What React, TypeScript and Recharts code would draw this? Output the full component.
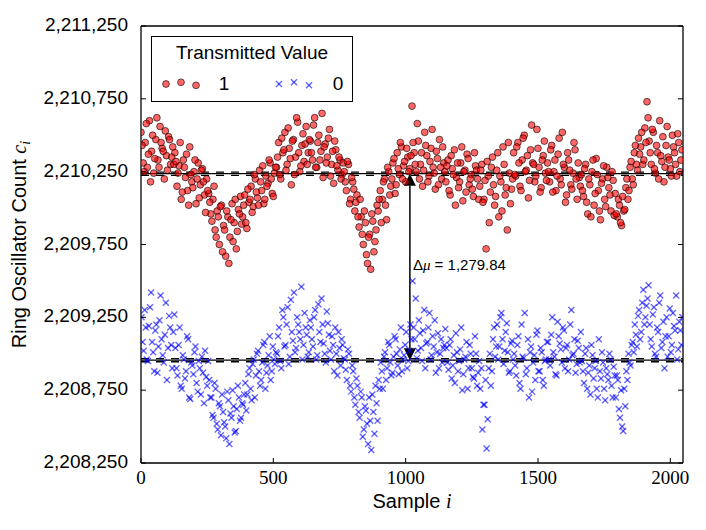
import {
  ScatterChart, Scatter, XAxis, YAxis, ReferenceLine, Legend, Label,
} from 'recharts';

const SANS = '"Liberation Sans", Arial, sans-serif';
const SERIF = '"Liberation Serif", "DejaVu Serif", serif';

// counts are stored as offsets from a base count, one row per 128 samples
const RED_BASE = 2210000;
const BLUE_BASE = 2208000;

// transmitted 1, even passes (samples 0, 8, 16, ...)
const redOffsets = [
  520, 310, 450, 280, 600, 390, 240, 470, 330, 560, 410, 200, 360, 490, 300, 420,
  380, 150, 290, 60, 330, 210, 120, 420, 180, 250, 30, 310, 160, 270, 90, 200,
  100, -40, 60, -150, -20, -250, 20, -120, -330, -60, -200, 30, -100, -280, -10, 80,
  -60, 90, -140, 40, 150, 10, 200, 70, 260, 120, 30, 220, 170, 310, 100, 240,
  280, 450, 200, 380, 520, 300, 410, 160, 470, 350, 590, 250, 430, 320, 560, 380,
  460, 330, 620, 280, 500, 390, 210, 440, 350, 540, 300, 170, 400, 260, 330, 230,
  250, 120, 300, 60, 180, -20, 90, -130, -60, -250, -100, -380, -180, -40, -300, -150,
  -20, 120, 60, 200, -80, 250, 150, 310, 100, 380, 230, 420, 290, 180, 350, 270,
  700, 380, 250, 460, 300, 150, 520, 360, 220, 410, 280, 130, 340, 470, 200, 310,
  180, 330, 90, 270, 400, 210, 140, 310, 50, 260, 370, 160, 230, 80, 290, 200,
  150, 300, 60, -280, 220, 110, 350, 20, 260, -60, 180, 420, 90, -150, 240, 130,
  380, 220, 450, 150, 330, 500, 260, 70, 400, 310, 180, 540, 280, 140, 360, 240,
  310, 180, 430, 250, 120, 370, 200, 520, 280, 90, 330, 160, 240, 400, 60, 210,
  230, 80, 300, -40, 160, 250, 20, 340, 120, -80, 200, 60, 280, 140, -20, 190,
  100, -60, 20, -120, -20, 140, 60, 280, 200, 380, 300, 480, 420, 300, 550, 730,
  460, 300, 520, 240, 380, 600, 320, 180, 430, 350, 270, 500, 380, 220, 450, 330,
];

// transmitted 1, odd passes (samples 4, 12, 20, ...)
const redOffsetsB = [
  430, 250, 580, 370, 180, 500, 340, 620, 280, 450, 390, 530, 260, 470, 350, 300,
  320, 240, 450, 110, 280, 370, 20, 230, 140, 330, 200, 70, 260, 180, -30, 120,
  40, -90, 150, -200, -60, 10, -300, -150, -20, -380, -80, -230, 60, -160, -40, -110,
  20, -100, 130, 60, -30, 230, 110, 20, 180, 290, 60, 150, 330, 200, 80, 280,
  350, 230, 480, 400, 260, 550, 340, 460, 230, 620, 380, 290, 510, 440, 300, 470,
  380, 570, 280, 450, 330, 650, 420, 310, 480, 220, 390, 460, 290, 350, 200, 310,
  180, 320, 30, 210, 130, 40, -60, 60, -180, -20, -320, -200, -420, -90, -230, 20,
  60, -100, 180, 20, 280, 90, 200, 340, 160, 270, 450, 200, 320, 410, 250, 360,
  450, 300, 580, 200, 380, 260, 430, 180, 320, 540, 240, 390, 160, 280, 420, 250,
  290, 120, 360, 230, 20, 310, 180, 420, 250, 110, 340, 200, 130, 380, 260, 60,
  260, 40, 190, 320, -100, 280, 160, 80, 380, 220, -20, 300, 140, 450, 30, 200,
  230, 420, 310, 120, 480, 250, 360, 190, 570, 300, 220, 410, 110, 330, 460, 190,
  250, 400, 110, 330, 220, 480, 160, 300, 40, 380, 260, 130, 450, 200, 310, 150,
  120, 270, 40, 200, -60, 330, 100, 230, -20, 170, 290, 10, 210, 90, 250, -50,
  -40, 60, -100, 80, -10, 200, 120, 320, 160, 430, 260, 370, 520, 330, 450, 620,
  380, 540, 270, 430, 200, 360, 490, 280, 560, 330, 220, 420, 300, 510, 250, 400,
];

// transmitted 0, even passes (samples 2, 10, 18, ...)
const blueOffsets = [
  1250, 1020, 1180, 950, 1320, 1080, 880, 1200, 1050, 1400, 990, 1130, 820, 1260, 1060, 1150,
  1040, 850, 1180, 760, 960, 880, 1100, 690, 920, 1010, 800, 950, 720, 870, 1020, 780,
  820, 700, 560, 760, 480, 640, 720, 530, 420, 680, 590, 750, 460, 620, 700, 560,
  650, 800, 720, 900, 680, 960, 850, 1020, 780, 940, 1080, 870, 990, 820, 1050, 930,
  1000, 1180, 900, 1250, 1060, 1320, 980, 1150, 1420, 1040, 1200, 1100, 960, 1280, 1130, 1010,
  1180, 1050, 1300, 990, 1150, 1380, 1070, 940, 1210, 1020, 1120, 880, 1000, 1150, 920, 1060,
  960, 820, 1000, 740, 880, 650, 780, 560, 700, 480, 610, 380, 540, 720, 450, 660,
  820, 940, 760, 1010, 900, 1060, 850, 980, 1100, 920, 1030, 880, 990, 1150, 950, 1200,
  1500, 1100, 970, 1230, 1040, 1160, 900, 1080, 1280, 990, 1050, 870, 1140, 1000, 940, 1060,
  1040, 890, 1100, 920, 800, 1010, 950, 1180, 860, 980, 760, 1060, 900, 830, 1000, 870,
  760, 480, 650, 350, 900, 780, 1100, 980, 1200, 1050, 1280, 930, 1150, 1010, 880, 1090,
  1000, 850, 1120, 760, 980, 1280, 900, 700, 1050, 940, 820, 1160, 880, 1010, 780, 960,
  1080, 920, 1250, 980, 850, 1120, 1030, 1180, 900, 1060, 960, 1300, 1000, 870, 1090, 940,
  950, 800, 1040, 870, 720, 990, 900, 760, 1100, 830, 940, 680, 860, 1000, 780, 910,
  700, 820, 560, 500, 760, 880, 1000, 920, 1080, 1200, 1050, 1300, 1150, 1440, 1250, 1380,
  1200, 1050, 1320, 980, 1150, 1400, 1080, 900, 1250, 1120, 1010, 1280, 1160, 960, 1220, 1060,
];

// transmitted 0, odd passes (samples 6, 14, 22, ...)
const blueOffsetsB = [
  1080, 1300, 960, 1190, 1420, 1010, 1160, 870, 1230, 1100, 940, 1350, 1040, 1180, 900, 1270,
  900, 1060, 780, 990, 830, 1120, 700, 940, 860, 1050, 740, 900, 980, 660, 840, 950,
  700, 580, 800, 520, 660, 440, 600, 500, 740, 380, 560, 640, 470, 780, 540, 660,
  720, 610, 860, 760, 930, 700, 1000, 880, 820, 1060, 760, 920, 1120, 880, 960, 1010,
  1120, 950, 1300, 1050, 1200, 930, 1370, 1090, 1010, 1250, 1150, 1460, 1060, 1180, 980, 1230,
  1100, 1250, 960, 1340, 1080, 1200, 1000, 1290, 1130, 960, 1060, 1180, 850, 1040, 1100, 970,
  890, 1030, 780, 920, 700, 830, 600, 740, 430, 640, 520, 700, 340, 600, 780, 540,
  760, 880, 980, 820, 1080, 940, 870, 1120, 1000, 860, 1180, 960, 1060, 900, 1020, 1100,
  1180, 1380, 1020, 1140, 950, 1300, 1070, 1180, 960, 1120, 1230, 1010, 900, 1100, 1040, 1170,
  940, 1060, 830, 990, 1140, 880, 1030, 750, 960, 1080, 900, 1000, 840, 1120, 780, 950,
  900, 650, 820, 550, 1000, 880, 1180, 1050, 960, 1250, 1100, 1020, 1210, 870, 1070, 960,
  920, 1060, 800, 1200, 970, 860, 1100, 1010, 740, 990, 1130, 880, 1040, 820, 950, 1080,
  960, 1130, 1010, 860, 1220, 1070, 940, 1160, 1040, 880, 1200, 990, 1100, 930, 1040, 1150,
  880, 1000, 760, 920, 1060, 830, 950, 700, 880, 1010, 760, 900, 820, 960, 700, 850,
  850, 620, 750, 470, 640, 820, 940, 1060, 1010, 1130, 1260, 1100, 1350, 1200, 1330, 1470,
  1100, 1270, 1000, 1180, 1350, 1040, 1220, 1120, 980, 1310, 1060, 1190, 1400, 1030, 1160, 1250,
];

const RED_MEAN = 2210236;
const BLUE_MEAN = 2208956.16;
const MEAN_CI = 11;
const DELTA_LABEL = '1,279.84';
const ARROW_SAMPLE = 1016;

const xTicks = [0, 500, 1000, 1500, 2000];
const yTicks = [2208250, 2208750, 2209250, 2209750, 2210250, 2210750, 2211250];

const toPoints = (offsets: number[], base: number, start: number) =>
  offsets.map((v, i) => ({ x: start + i * 8, y: base + v }));

const redData = [...toPoints(redOffsets, RED_BASE, 0), ...toPoints(redOffsetsB, RED_BASE, 4)];
const blueData = [...toPoints(blueOffsets, BLUE_BASE, 2), ...toPoints(blueOffsetsB, BLUE_BASE, 6)];

const fmt = (v: number) => v.toLocaleString('en-US');

const RedDot = (p: any) => (
  <circle cx={p.cx} cy={p.cy} r={3.4} fill="#ff0000" fillOpacity={0.6}
    stroke="#000" strokeOpacity={0.6} strokeWidth={1} />
);

const BlueCross = (p: any) => {
  const s = 3;
  return (
    <g stroke="#0000ff" strokeOpacity={0.6} strokeWidth={1.4}>
      <line x1={p.cx - s} y1={p.cy - s} x2={p.cx + s} y2={p.cy + s} />
      <line x1={p.cx - s} y1={p.cy + s} x2={p.cx + s} y2={p.cy - s} />
    </g>
  );
};

const BottomTick = ({ x, y, payload }: any) => (
  <g>
    <line x1={x} x2={x} y1={y} y2={y - 5} stroke="#000" />
    <text x={x} y={y + 21} textAnchor="middle" fontFamily={SERIF} fontSize={19} fill="#000">
      {payload.value}
    </text>
  </g>
);

const TopTick = ({ x, y }: any) => <line x1={x} x2={x} y1={y} y2={y + 5} stroke="#000" />;

const LeftTick = ({ x, y, payload }: any) => (
  <g>
    <line x1={x} x2={x + 5} y1={y} y2={y} stroke="#000" />
    <text x={x - 13} y={y + 5} textAnchor="end" fontFamily={SANS} fontSize={19} fill="#000">
      {fmt(payload.value)}
    </text>
  </g>
);

const RightTick = ({ x, y }: any) => <line x1={x} x2={x - 5} y1={y} y2={y} stroke="#000" />;

const YTitle = ({ viewBox }: any) => {
  const cx = 26;
  const cy = viewBox.y + viewBox.height / 2;
  return (
    <text x={cx} y={cy} transform={`rotate(-90 ${cx} ${cy})`} textAnchor="middle"
      fontFamily={SANS} fontSize={20} fill="#000">
      Ring Oscillator Count{' '}
      <tspan fontFamily={SERIF} fontStyle="italic">c</tspan>
      <tspan fontFamily={SERIF} fontStyle="italic" fontSize={14} dy={4}>i</tspan>
    </text>
  );
};

const XTitle = ({ viewBox }: any) => (
  <text x={viewBox.x + viewBox.width / 2} y={508} textAnchor="middle"
    fontFamily={SANS} fontSize={20} fill="#000">
    Sample <tspan fontFamily={SERIF} fontStyle="italic">i</tspan>
  </text>
);

const DeltaArrow = (p: any) => {
  const x = p.x1;
  const top = Math.min(p.y1, p.y2);
  const bot = Math.max(p.y1, p.y2);
  const h = 12;
  const w = 6;
  return (
    <g>
      <line x1={x} x2={x} y1={top + h} y2={bot - h} stroke="#000" strokeWidth={1.5} />
      <polygon points={`${x},${top} ${x - w},${top + h} ${x + w},${top + h}`} fill="#000" />
      <polygon points={`${x},${bot} ${x - w},${bot - h} ${x + w},${bot - h}`} fill="#000" />
      <text x={x + 3} y={(top + bot) / 2 + 3} fontFamily={SANS} fontSize={15} fill="#000">
        Δ<tspan fontFamily={SERIF} fontStyle="italic">μ</tspan> = {DELTA_LABEL}
      </text>
    </g>
  );
};

const LegendBox = () => (
  <div style={{
    width: 202, height: 66, boxSizing: 'border-box', border: '1.3px solid #000',
    background: '#fff',
  }}>
    <svg width={200} height={64} style={{ display: 'block' }}>
      <text x={100} y={21.5} textAnchor="middle" fontFamily={SANS} fontSize={19} fill="#000">
        Transmitted Value
      </text>
      <RedDot cx={14} cy={47} />
      <RedDot cx={29} cy={45.3} />
      <RedDot cx={44} cy={48.3} />
      <text x={72} y={53} textAnchor="middle" fontFamily={SANS} fontSize={19} fill="#000">1</text>
      <BlueCross cx={127} cy={47} />
      <BlueCross cx={142} cy={45.3} />
      <BlueCross cx={157} cy={48.3} />
      <text x={186} y={53} textAnchor="middle" fontFamily={SANS} fontSize={19} fill="#000">0</text>
    </svg>
  </div>
);

export default function App() {
  return (
    <div style={{ position: 'absolute', left: 0, top: 0, background: '#fff' }}>
      <ScatterChart width={706} height={530} margin={{ top: 16, right: 13, bottom: 37, left: 0 }}>
        <XAxis type="number" dataKey="x" domain={[0, 2048]} ticks={xTicks} allowDataOverflow
          height={30} tickSize={0} tickMargin={0} tick={BottomTick}
          axisLine={{ stroke: '#000', strokeWidth: 1.3 }} tickLine={false}>
          <Label content={XTitle} />
        </XAxis>
        <XAxis xAxisId="top" orientation="top" type="number" domain={[0, 2048]} ticks={xTicks}
          allowDataOverflow height={10} tickSize={0} tickMargin={0} tick={TopTick}
          axisLine={{ stroke: '#000', strokeWidth: 1.3 }} tickLine={false} />
        <YAxis type="number" dataKey="y" domain={[2208250, 2211250]} ticks={yTicks} allowDataOverflow
          width={141} tickSize={0} tickMargin={0} tick={LeftTick}
          axisLine={{ stroke: '#000', strokeWidth: 1.3 }} tickLine={false}>
          <Label content={YTitle} />
        </YAxis>
        <YAxis yAxisId="right" orientation="right" type="number" domain={[2208250, 2211250]}
          ticks={yTicks} allowDataOverflow width={10} tickSize={0} tickMargin={0} tick={RightTick}
          axisLine={{ stroke: '#000', strokeWidth: 1.3 }} tickLine={false} />

        <Scatter name="1" data={redData} shape={RedDot} fill="#ff0000" isAnimationActive={false} />
        <Scatter name="0" data={blueData} shape={BlueCross} fill="#0000ff" isAnimationActive={false} />

        <ReferenceLine y={RED_MEAN} stroke="#000" strokeWidth={1.3} />
        <ReferenceLine y={RED_MEAN + MEAN_CI} stroke="#000" strokeWidth={1.3} strokeDasharray="8 7" />
        <ReferenceLine y={RED_MEAN - MEAN_CI} stroke="#000" strokeWidth={1.3} strokeDasharray="8 7" />
        <ReferenceLine y={BLUE_MEAN} stroke="#000" strokeWidth={1.3} />
        <ReferenceLine y={BLUE_MEAN + MEAN_CI} stroke="#000" strokeWidth={1.3} strokeDasharray="8 7" />
        <ReferenceLine y={BLUE_MEAN - MEAN_CI} stroke="#000" strokeWidth={1.3} strokeDasharray="8 7" />
        <ReferenceLine
          segment={[{ x: ARROW_SAMPLE, y: RED_MEAN }, { x: ARROW_SAMPLE, y: BLUE_MEAN }]}
          shape={DeltaArrow}
        />

        <Legend layout="vertical" align="center" verticalAlign="middle" content={LegendBox}
          wrapperStyle={{ left: 151, top: 36, width: 202, height: 66 }} />
      </ScatterChart>
    </div>
  );
}
